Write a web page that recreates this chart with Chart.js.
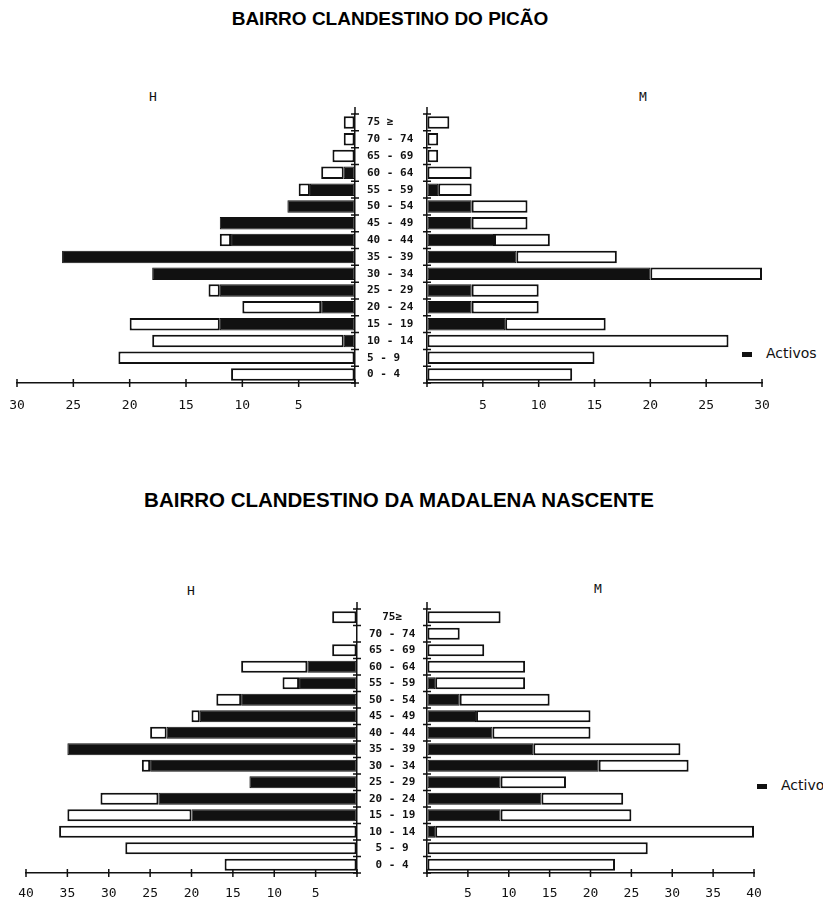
<!DOCTYPE html>
<html>
<head>
<meta charset="utf-8">
<script src="https://cdn.jsdelivr.net/npm/chart.js@4.4.1/dist/chart.umd.min.js"></script>
<style>
  body { margin: 0; background: #fff; }
  #page { position: relative; width: 823px; height: 906px; overflow: hidden; }
  .title { position: absolute; left: 0; width: 800px; text-align: center;
           font: bold 19px "Liberation Sans", Arial, sans-serif; color: #000; }
  .side { position: absolute; font: 13px "DejaVu Sans Mono", monospace; color: #111; }
  .legend { position: absolute; white-space: nowrap; font: 14px "DejaVu Sans", sans-serif; color: #111; }
  .legend span { display: inline-block; width: 10px; height: 5px; background: #111;
                 vertical-align: middle; margin-right: 14px; }
  canvas { position: absolute; }
</style>
</head>
<body>
<div id="page">
  <div class="title" style="top:8px;left:-10px">BAIRRO CLANDESTINO DO PICÃO</div>
  <div class="side" style="left:149px;top:89px">H</div>
  <div class="side" style="left:639px;top:89px">M</div>
  <div class="legend" style="left:742px;top:345px"><span></span>Activos</div>

  <div class="title" style="top:488px;left:-1px;font-size:20.5px">BAIRRO CLANDESTINO DA MADALENA NASCENTE</div>
  <div class="side" style="left:187px;top:583px">H</div>
  <div class="side" style="left:594px;top:581px">M</div>
  <div class="legend" style="left:757px;top:777px"><span></span>Activo</div>

  <canvas id="picaoH" width="430" height="320" style="left:0;top:100px"></canvas>
  <canvas id="picaoM" width="403" height="320" style="left:420px;top:100px"></canvas>
  <canvas id="madalenaH" width="430" height="336" style="left:0;top:570px"></canvas>
  <canvas id="madalenaM" width="403" height="336" style="left:420px;top:570px"></canvas>
</div>

<script>
// Age groups, oldest at the top
const picaoAges = ['75 ≥', '70 - 74', '65 - 69', '60 - 64', '55 - 59', '50 - 54', '45 - 49', '40 - 44',
                   '35 - 39', '30 - 34', '25 - 29', '20 - 24', '15 - 19', '10 - 14', '5 - 9', '0 - 4'];
const madalenaAges = ['  75≥', '70 - 74', '65 - 69', '60 - 64', '55 - 59', '50 - 54', '45 - 49', '40 - 44',
                      '35 - 39', '30 - 34', '25 - 29', '20 - 24', '15 - 19', '10 - 14', ' 5 - 9', ' 0 - 4'];

// Picão: total population and active population per age group
const picaoHTotal  = [1, 1, 2, 3, 5, 6, 12, 12, 26, 18, 13, 10, 20, 18, 21, 11];
const picaoHActive = [0, 0, 0, 1, 4, 6, 12, 11, 26, 18, 12, 3, 12, 1, 0, 0];
const picaoMTotal  = [2, 1, 1, 4, 4, 9, 9, 11, 17, 30, 10, 10, 16, 27, 15, 13];
const picaoMActive = [0, 0, 0, 0, 1, 4, 4, 6, 8, 20, 4, 4, 7, 0, 0, 0];

// Madalena Nascente
const madalenaHTotal  = [3, 0, 3, 14, 9, 17, 20, 25, 35, 26, 13, 31, 35, 36, 28, 16];
const madalenaHActive = [0, 0, 0, 6, 7, 14, 19, 23, 35, 25, 13, 24, 20, 0, 0, 0];
const madalenaMTotal  = [9, 4, 7, 12, 12, 15, 20, 20, 31, 32, 17, 24, 25, 40, 27, 23];
const madalenaMActive = [0, 0, 0, 0, 1, 4, 6, 8, 13, 21, 9, 14, 9, 1, 0, 0];

const ink = '#111';

// tick marks crossing both axes, like the typed original
const crossTicks = {
  id: 'crossTicks',
  afterDraw(chart, args, opts) {
    const { ctx, chartArea: a, scales: { x, y } } = chart;
    const axisX = opts.side === 'left' ? a.right : a.left;
    const n = y.ticks.length;
    ctx.save();
    ctx.strokeStyle = ink;
    ctx.lineWidth = 1.5;
    ctx.beginPath();
    ctx.moveTo(axisX, a.top - 7);
    ctx.lineTo(axisX, a.top);
    for (let i = 0; i <= n; i++) {
      const py = a.top + i * (a.bottom - a.top) / n;
      ctx.moveTo(axisX - 4, py);
      ctx.lineTo(axisX + 4, py);
    }
    for (let v = 0; v <= x.max; v += 5) {
      const px = x.getPixelForValue(v);
      ctx.moveTo(px, a.bottom - 4);
      ctx.lineTo(px, a.bottom + 4);
    }
    ctx.stroke();
    ctx.restore();
  }
};

/**
 * One half of a pyramid: active part in black, the rest as an outlined white bar
 */
function makeSide(id, ages, total, active, opts) {
  const inactive = total.map((t, i) => (t - active[i]) || null);
  const isLeft = opts.side === 'left';

  return new Chart(document.getElementById(id), {
    type: 'bar',
    data: {
      labels: ages,
      datasets: [{
        data: active.map(v => v || null),
        backgroundColor: ink,
        borderColor: ink,
        borderWidth: 1,
        borderSkipped: false,
        barPercentage: 0.74,
        categoryPercentage: 1
      }, {
        data: inactive,
        backgroundColor: '#fff',
        borderColor: ink,
        borderWidth: 2,
        borderSkipped: false,
        barPercentage: 0.74,
        categoryPercentage: 1
      }]
    },
    options: {
      indexAxis: 'y',
      responsive: false,
      animation: false,
      layout: { padding: opts.padding },
      plugins: {
        legend: { display: false },
        tooltip: { enabled: false },
        crossTicks: { side: opts.side }
      },
      scales: {
        x: {
          stacked: true,
          reverse: isLeft,
          min: 0,
          max: opts.max,
          // fixed height, and no extra room for the end labels
          afterFit: scale => {
            scale.height = opts.xHeight;
            scale.paddingLeft = 0;
            scale.paddingRight = 0;
          },
          border: { display: true, color: ink, width: 1.5 },
          grid: { drawOnChartArea: false, drawTicks: false },
          ticks: {
            stepSize: 5,
            padding: opts.xPad,
            color: ink,
            font: { family: 'DejaVu Sans Mono', size: 13 },
            callback: v => (v === 0 ? '' : v)
          }
        },
        y: {
          stacked: true,
          position: isLeft ? 'right' : 'left',
          afterFit: scale => {
            scale.width = opts.yWidth;
            scale.paddingTop = 0;
            scale.paddingBottom = 0;
          },
          border: { display: true, color: ink, width: 1.5 },
          grid: { drawOnChartArea: false, drawTicks: false, offset: true },
          ticks: {
            display: isLeft,
            padding: 12,
            color: ink,
            font: { family: 'DejaVu Sans Mono', size: 11, weight: 'bold' }
          }
        }
      }
    },
    plugins: [crossTicks]
  });
}

makeSide('picaoH', picaoAges, picaoHTotal, picaoHActive, {
  side: 'left', max: 30, yWidth: 75, xHeight: 37, xPad: 15,
  padding: { left: 17, top: 14, right: 0, bottom: 0 }
});
makeSide('picaoM', picaoAges, picaoMTotal, picaoMActive, {
  side: 'right', max: 30, yWidth: 7, xHeight: 37, xPad: 15,
  padding: { left: 0, top: 14, right: 61, bottom: 0 }
});
makeSide('madalenaH', madalenaAges, madalenaHTotal, madalenaHActive, {
  side: 'left', max: 40, yWidth: 73, xHeight: 33, xPad: 13,
  padding: { left: 26, top: 39, right: 0, bottom: 0 }
});
makeSide('madalenaM', madalenaAges, madalenaMTotal, madalenaMActive, {
  side: 'right', max: 40, yWidth: 7, xHeight: 33, xPad: 13,
  padding: { left: 0, top: 39, right: 69, bottom: 0 }
});
</script>
</body>
</html>
